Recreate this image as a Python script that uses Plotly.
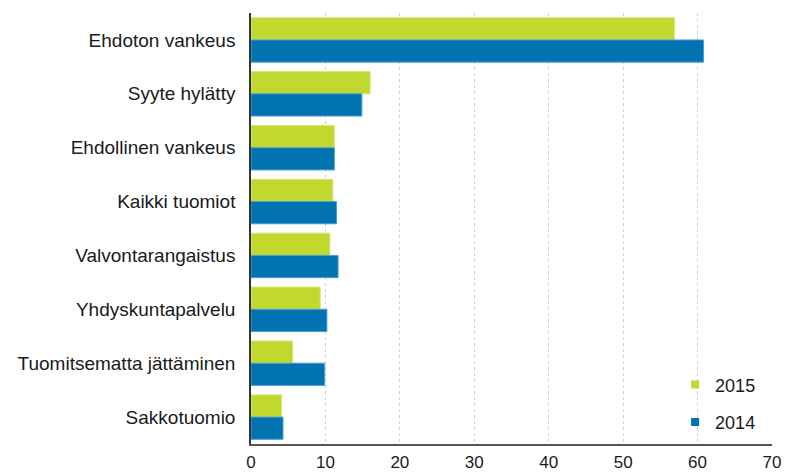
import plotly.graph_objects as go

categories = ["Ehdoton vankeus", "Syyte hylätty", "Ehdollinen vankeus", "Kaikki tuomiot",
              "Valvontarangaistus", "Yhdyskuntapalvelu", "Tuomitsematta jättäminen", "Sakkotuomio"]
values_2015 = [56.9, 16.0, 11.2, 11.0, 10.6, 9.3, 5.6, 4.1]
values_2014 = [60.8, 14.9, 11.2, 11.5, 11.7, 10.2, 9.9, 4.3]
x_ticks = [0, 10, 20, 30, 40, 50, 60, 70]

green = "#C1D82E"
blue = "#0073B0"
font_family = "Liberation Sans, Arial, sans-serif"

fig = go.Figure()
fig.add_trace(go.Bar(y=categories, x=values_2015, orientation="h", name="2015",
                     marker=dict(color=green, line=dict(color="#d6e57a", width=1)),
                     showlegend=False))
fig.add_trace(go.Bar(y=categories, x=values_2014, orientation="h", name="2014",
                     marker=dict(color=blue, line=dict(color="#4a9fd0", width=1)),
                     showlegend=False))
# legend entries with small square symbols
fig.add_trace(go.Scatter(x=[None], y=[None], mode="markers", name="2015", legendgroup="a",
                         marker=dict(symbol="square", size=8, color=green)))
fig.add_trace(go.Scatter(x=[None], y=[None], mode="markers", name="2014", legendgroup="b",
                         marker=dict(symbol="square", size=8, color=blue)))

fig.update_layout(
    width=787, height=473,
    margin=dict(l=251, r=15, t=13, b=29, autoexpand=False),
    paper_bgcolor="white", plot_bgcolor="white",
    barmode="group", bargap=0.175, bargroupgap=0,
    font=dict(family=font_family, size=18, color="#1a1a1a"),
    legend=dict(x=0.814, y=0.18, xanchor="left", yanchor="top",
                bgcolor="rgba(0,0,0,0)", tracegroupgap=11,
                itemwidth=30, font=dict(size=18, color="#1a1a1a")),
    xaxis=dict(range=[0, 70], tickvals=x_ticks, ticktext=[str(v) for v in x_ticks],
               showgrid=True, gridcolor="#d0d0d0", griddash="dot", gridwidth=1,
               showline=True, linecolor="#555555", linewidth=1.5,
               zeroline=False, ticks="", ticklabelstandoff=2, automargin=False,
               tickfont=dict(size=17, color="#1a1a1a")),
    yaxis=dict(categoryorder="array", categoryarray=categories, autorange="reversed",
               showgrid=False, showline=True, linecolor="#333333", linewidth=1.5,
               ticks="", ticklabelstandoff=10, automargin=False,
               tickfont=dict(size=19, color="#1a1a1a")),
)

fig.write_html("out.html", config={"displayModeBar": False},
               post_script="document.body.style.margin='0';document.body.style.overflow='hidden';")
